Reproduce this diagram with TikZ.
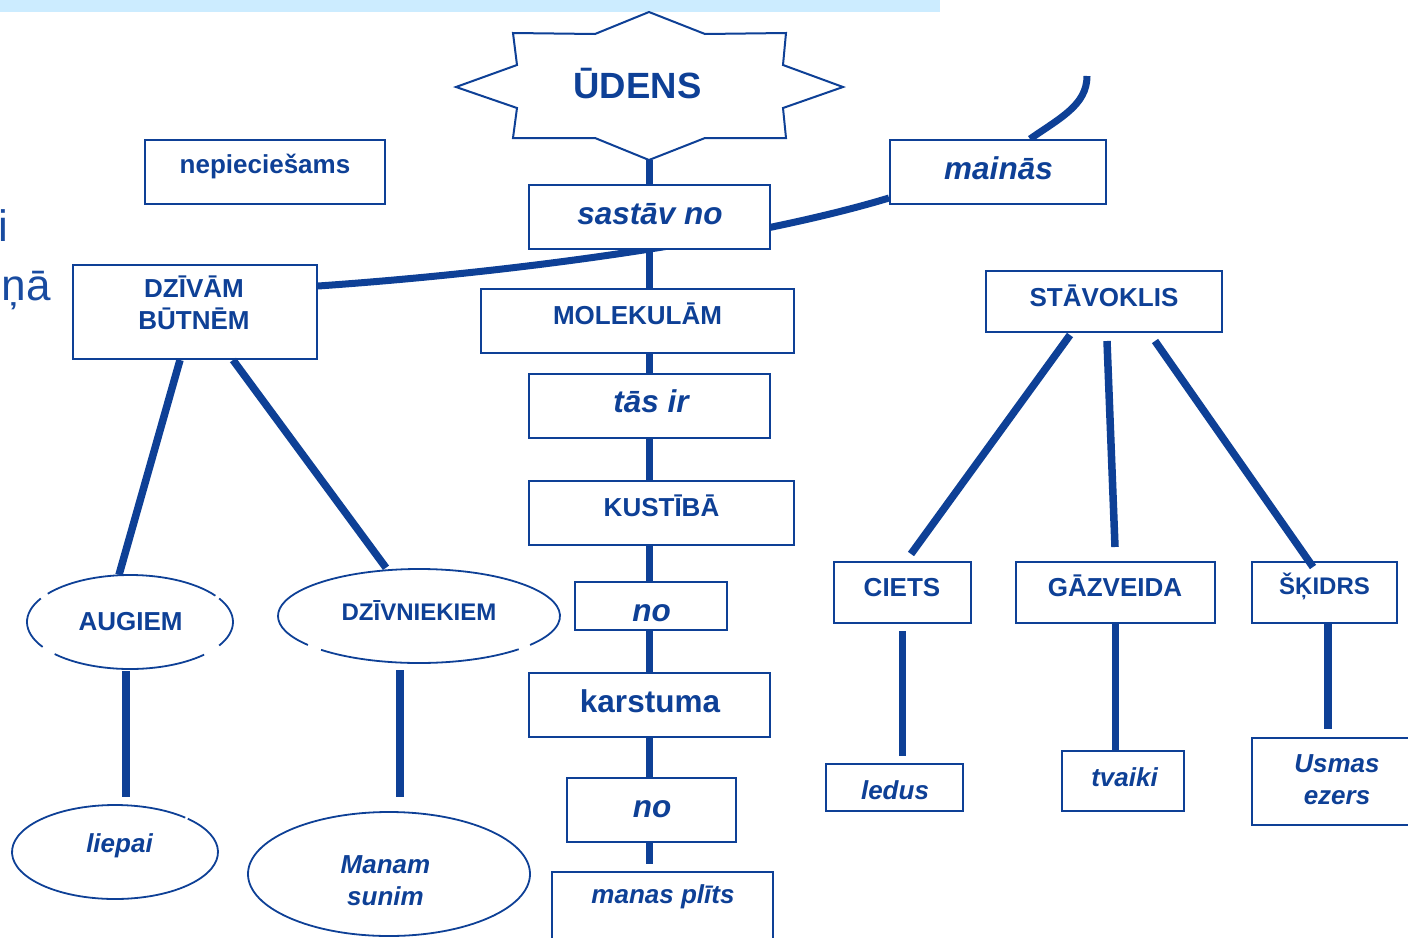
\documentclass[tikz,border=0pt]{standalone}
\usepackage{fontspec}
\setmainfont{Liberation Sans}
\usetikzlibrary{shapes.geometric,calc}
\pgfdeclarelayer{background}
\pgfsetlayers{background,main}
\definecolor{dblue}{RGB}{14,64,150}
\definecolor{fblue}{RGB}{25,75,160}
\definecolor{barblue}{RGB}{204,236,255}
\newcommand\earc[5]{\draw[ell] ($(#1.center)+(#4:#2pt and #3pt)$) arc[start angle=#4, end angle=#5, x radius=#2pt, y radius=#3pt];}
\begin{document}
\begin{tikzpicture}[x=1pt,y=-1pt,
  box/.style={draw=dblue, line width=2pt, fill=white, rectangle, inner sep=0pt},
  ell/.style={draw=dblue, line width=1.8pt},
  enode/.style={ellipse, inner sep=0pt, draw=none},
  conn/.style={draw=dblue, line width=7.5pt},
  lb/.style={text=dblue, inner sep=0pt, anchor=base, align=center, font=\bfseries\fontsize{26pt}{31.5pt}\selectfont},
  li/.style={lb, font=\bfseries\itshape\fontsize{26pt}{31.5pt}\selectfont},
  lbig/.style={lb, font=\bfseries\fontsize{31.5pt}{36pt}\selectfont},
  libig/.style={lb, font=\bfseries\itshape\fontsize{31.5pt}{36pt}\selectfont},
  lsmall/.style={lb, font=\bfseries\fontsize{24pt}{28pt}\selectfont},
  frag/.style={text=fblue, inner sep=0pt, font=\fontsize{44pt}{50pt}\selectfont},
]
\useasboundingbox (0,0) rectangle (1408,937);
\fill[barblue] (0,0) rectangle (940,12);

% fragments of cut-off text
\node[frag, anchor=base east] (fi) at (8.7,241) {i};
\node[frag, anchor=base east] (fna) at (51,300) {ņā};

% star
\draw[dblue, line width=2pt, fill=white] (649,12) -- (705,34) -- (786,33) -- (783,65) -- (843,87) -- (783,108) -- (786,138) -- (705,138) -- (649,160) -- (595,138) -- (513,138) -- (517,108) -- (456,87) -- (517,65) -- (513,33) -- (595,34) -- cycle;
\node[lb, font=\bfseries\fontsize{36.5pt}{40pt}\selectfont] (udens) at (637.5,98) {ŪDENS};
\coordinate (sb) at (649.5,160);

% boxes
\node[box, minimum width=240pt, minimum height=64pt] (nep) at (265,172) {};
\node[lb] (nep-t) at (265,173) {nepieciešams};
\node[box, minimum width=216pt, minimum height=64pt] (main) at (998,172) {};
\node[libig] (main-t) at (998.5,179) {mainās};
\node[box, minimum width=241pt, minimum height=64pt] (sast) at (649.5,217) {};
\node[libig] (sast-t) at (650,224) {sastāv no};
\node[box, minimum width=313pt, minimum height=64pt] (mol) at (637.5,321) {};
\node[lb] (mol-t) at (637.5,324) {MOLEKULĀM};
\node[box, minimum width=241pt, minimum height=64pt] (tas) at (649.5,406) {};
\node[libig] (tas-t) at (651,412) {tās ir};
\node[box, minimum width=265pt, minimum height=64pt] (kust) at (661.5,513) {};
\node[lb] (kust-t) at (661.5,516) {KUSTĪBĀ};
\node[box, minimum width=152pt, minimum height=48pt] (no1) at (651,606) {};
\node[libig] (no1-t) at (651.5,621) {no};
\node[box, minimum width=241pt, minimum height=64pt] (kar) at (649.5,705) {};
\node[lbig] (kar-t) at (650,712) {karstuma};
\node[box, minimum width=169pt, minimum height=64pt] (no2) at (651.5,810) {};
\node[libig] (no2-t) at (652,817) {no};
\node[box, minimum width=221pt, minimum height=88pt] (plits) at (662.5,916) {};
\node[li] (plits-t) at (663,903) {manas plīts};
\node[box, minimum width=244pt, minimum height=94pt] (dziv) at (195,312) {};
\node[lb] (dziv-t) at (194,329) {DZĪVĀM\\BŪTNĒM};
\node[box, minimum width=236pt, minimum height=61pt] (stav) at (1104,301.5) {};
\node[lb] (stav-t) at (1104,306) {STĀVOKLIS};
\node[box, minimum width=137pt, minimum height=61pt] (ciets) at (902.5,592.5) {};
\node[lb] (ciets-t) at (902,596) {CIETS};
\node[box, minimum width=199pt, minimum height=61pt] (gaz) at (1115.5,592.5) {};
\node[lb] (gaz-t) at (1115,596) {GĀZVEIDA};
\node[box, minimum width=145pt, minimum height=61pt] (skid) at (1324.5,592.5) {};
\node[lsmall] (skid-t) at (1324.5,594) {ŠĶIDRS};
\node[box, minimum width=137pt, minimum height=47pt] (ledus) at (894.5,787.5) {};
\node[li] (ledus-t) at (895,799) {ledus};
\node[box, minimum width=122pt, minimum height=60pt] (tvaiki) at (1123,781) {};
\node[li] (tvaiki-t) at (1124.5,786) {tvaiki};
\node[box, minimum width=168pt, minimum height=87pt] (usmas) at (1336,781.5) {};
\node[li] (usmas-t) at (1337,804) {Usmas\\ezers};

% ellipses
\node[enode, minimum width=206pt, minimum height=94pt] (aug) at (130,622) {};
\node[lb] (aug-t) at (130.5,630) {AUGIEM};
\node[enode, minimum width=282pt, minimum height=94pt] (dzn) at (419,616) {};
\node[lsmall] (dzn-t) at (419,620) {DZĪVNIEKIEM};
\node[enode, minimum width=206pt, minimum height=94pt] (liep) at (115,852) {};
\node[li] (liep-t) at (119.5,852) {liepai};
\node[enode, minimum width=282pt, minimum height=124pt] (man) at (389,874) {};
\node[li] (man-t) at (385.5,905) {Manam\\sunim};
\earc{aug}{103}{47}{34}{143}
\earc{aug}{103}{47}{150}{212}
\earc{aug}{103}{47}{223}{316}
\earc{aug}{103}{47}{330}{390}
\earc{dzn}{141}{47}{-38}{218}
\earc{dzn}{141}{47}{226}{315}
\earc{liep}{103}{47}{47}{405}
\earc{man}{141}{62}{0}{360}

% curved connectors (behind boxes)
\coordinate (mtop) at (1087,76);
\begin{pgfonlayer}{background}
\draw[conn, line width=7pt] ($(dziv.east)+(0,-26)$) .. controls (520,272) and (750,240) .. ($(main.west)+(0,26)$);
\draw[conn, line width=7pt] ($(main.north)+(32,0)$) .. controls (1060,118) and (1087,105) .. (mtop);
\end{pgfonlayer}

% central chain
\coordinate (pend) at (649.5,864);
\draw[conn] (sb) -- (sast.north);
\draw[conn] (sast.south) -- (sast.south |- mol.north);
\draw[conn] (sast.south |- mol.south) -- (tas.north);
\draw[conn] (tas.south) -- (tas.south |- kust.north);
\draw[conn] (tas.south |- kust.south) -- (tas.south |- no1.north);
\draw[conn] (tas.south |- no1.south) -- (kar.north);
\draw[conn] (kar.south) -- (kar.south |- no2.north);
\draw[conn] (kar.south |- no2.south) -- (pend);

% left branch
\draw[conn] ($(dziv.south)+(-15,0)$) -- ($(aug.north)+(-11,0)$);
\draw[conn] ($(dziv.south)+(38,0)$) -- ($(dzn.north)+(-33,-1)$);
\draw[conn] ($(aug.south)+(-4,2)$) -- ($(aug.south |- liep.north)+(-4,-8)$);
\draw[conn] ($(dzn.south)+(-19,7)$) -- ($(dzn.south |- man.north)+(-19,-15)$);

% right branch
\draw[conn] ($(stav.south)+(-34,2)$) -- ($(ciets.north)+(8.5,-7)$);
\draw[conn] ($(stav.south)+(3,8)$) -- ($(gaz.north)+(-0.5,-14)$);
\draw[conn] ($(stav.south)+(51,8)$) -- ($(skid.north)+(-11.5,6)$);
\draw[conn] ($(ciets.south)+(0,7)$) -- ($(ciets.south |- ledus.north)+(0,-7)$);
\draw[conn] (gaz.south) -- (gaz.south |- tvaiki.north);
\draw[conn] ($(skid.south)+(3.5,0)$) -- ($(skid.south |- usmas.north)+(3.5,-8)$);
\end{tikzpicture}
\end{document}
